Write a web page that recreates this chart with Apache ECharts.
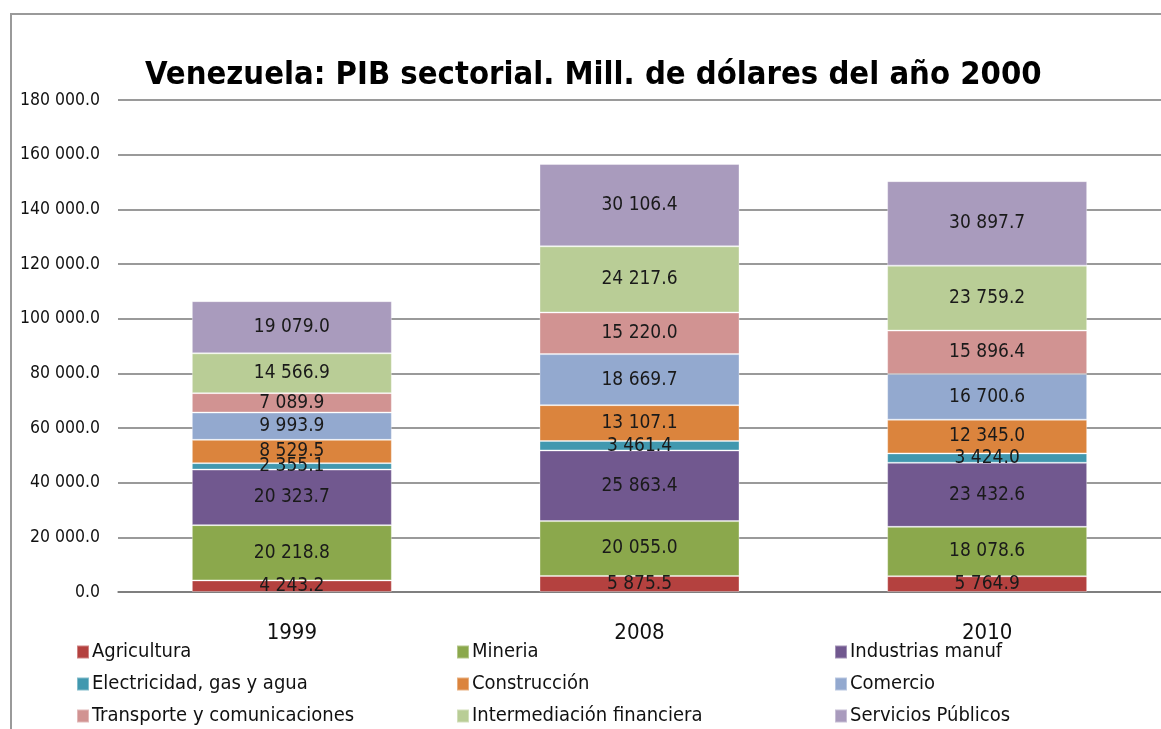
<!DOCTYPE html>
<html>
<head>
<meta charset="utf-8">
<script src="https://cdn.jsdelivr.net/npm/echarts@6/dist/echarts.min.js"></script>
<style>
  html, body { margin: 0; padding: 0; background: #fff; }
  #frame { position: absolute; left: 10px; top: 13px; width: 1200px; height: 760px;
           border-left: 2px solid #9a9a9a; border-top: 2px solid #9a9a9a; }
  #chart { position: absolute; left: 0; top: 0; width: 1161px; height: 729px; }
</style>
</head>
<body>
<div id="frame"></div>
<div id="chart"></div>
<script>
// years on the x axis
const years = ["1999", "2008", "2010"];

// sector values, mill. USD of 2000 (bottom to top)
const agricultura = [4243.2, 5875.5, 5764.9];
const mineria = [20218.8, 20055.0, 18078.6];
const industrias = [20323.7, 25863.4, 23432.6];
const electricidad = [2355.1, 3461.4, 3424.0];
const construccion = [8529.5, 13107.1, 12345.0];
const comercio = [9993.9, 18669.7, 16700.6];
const transporte = [7089.9, 15220.0, 15896.4];
const intermediacion = [14566.9, 24217.6, 23759.2];
const servicios = [19079.0, 30106.4, 30897.7];

const sectorNames = [
    "Agricultura", "Mineria", "Industrias manuf",
    "Electricidad, gas y agua", "Construcción", "Comercio",
    "Transporte y comunicaciones", "Intermediación financiera", "Servicios Públicos",
];
const sectorValues = [
    agricultura, mineria, industrias,
    electricidad, construccion, comercio,
    transporte, intermediacion, servicios,
];
const sectorColors = [
    "#b4413f", "#8ba84c", "#71588f",
    "#4198af", "#db843d", "#93a9cf",
    "#d19392", "#b9cd96", "#a99bbd",
];

const font = "'Liberation Sans Narrow', 'DejaVu Sans Condensed', 'Roboto', sans-serif";

// 1234.5 -> "1 234.5"
const fmt = (v) => {
    const parts = v.toFixed(1).split(".");
    return parts[0].replace(/\B(?=(\d{3})+(?!\d))/g, " ") + "." + parts[1];
};

// one legend column per group of three sectors
const legendCol = (names, left) => ({
    orient: "vertical",
    left: left,
    top: 642,
    height: 110,
    padding: 0,
    itemWidth: 12,
    itemHeight: 13,
    itemGap: 12,
    icon: "rect",
    data: names,
    textStyle: { fontFamily: font, fontSize: 20, lineHeight: 20, color: "#111", padding: [0, 0, 0, -2] },
});

const chartOption = {
    backgroundColor: "transparent",
    animation: false,
    title: {
        text: "Venezuela: PIB sectorial. Mill. de dólares del año 2000",
        left: 140,
        top: 54,
        textStyle: { fontFamily: font, fontSize: 32.5, fontWeight: "bold", color: "#000" },
    },
    legend: [
        legendCol([sectorNames[0], sectorNames[3], sectorNames[6]], 76),
        legendCol([sectorNames[1], sectorNames[4], sectorNames[7]], 456),
        legendCol([sectorNames[2], sectorNames[5], sectorNames[8]], 834),
    ],
    grid: { left: 118, right: -7, top: 100, bottom: 137 },
    xAxis: {
        type: "category",
        data: years,
        axisLine: { lineStyle: { color: "#777", width: 1.5 } },
        axisTick: { show: false },
        axisLabel: { fontFamily: font, fontSize: 22, color: "#111", margin: 30 },
    },
    yAxis: {
        type: "value",
        min: 0,
        max: 180000,
        interval: 20000,
        axisLine: { show: false },
        axisTick: { show: false },
        splitLine: { lineStyle: { color: "#9a9a9a", width: 2 } },
        axisLabel: {
            fontFamily: font, fontSize: 17.5, color: "#111", margin: 18,
            formatter: (v) => fmt(v),
        },
    },
    series: sectorNames.map((name, i) => ({
        name: name,
        type: "bar",
        stack: "pib",
        barWidth: 200,
        data: sectorValues[i],
        itemStyle: { color: sectorColors[i], borderColor: "rgba(255,255,255,0.35)", borderWidth: 1 },
        label: {
            show: true,
            position: "inside",
            fontFamily: font,
            fontSize: 19,
            color: "#1a1a1a",
            formatter: (p) => fmt(p.value),
        },
    })),
};

const chart = echarts.init(document.getElementById("chart"));
chart.setOption(chartOption);
</script>
</body>
</html>
